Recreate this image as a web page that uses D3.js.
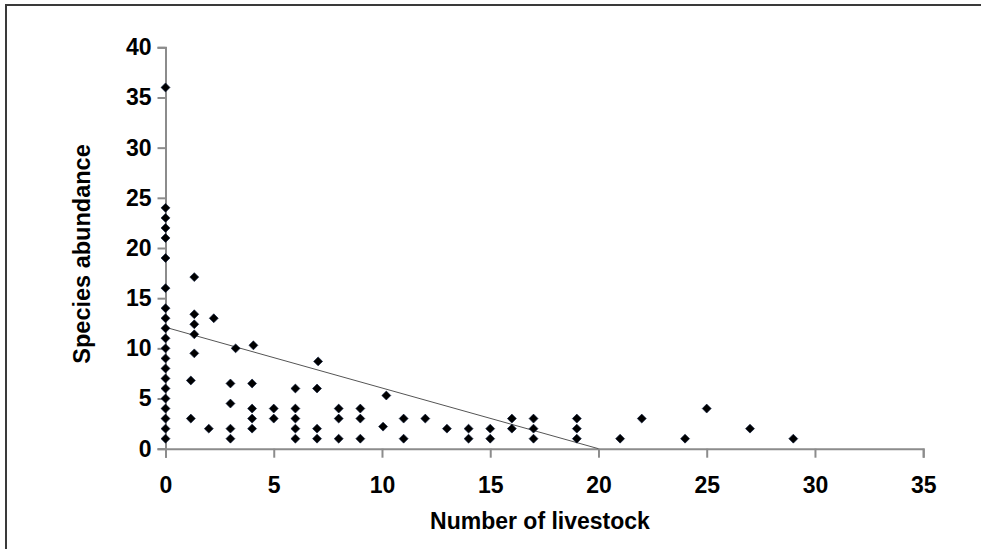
<!DOCTYPE html>
<html><head><meta charset="utf-8">
<script src="https://cdn.jsdelivr.net/npm/d3@7"></script>
<style>body{margin:0;background:#fff;}svg{display:block;}</style>
</head><body>
<svg id="c" width="981" height="549"></svg>
<script>
// Data: number of livestock (x) vs species abundance (y)
const livestock = [0,0,0,0,0,0,0,0,0,0,0,0,0,0,0,0,0,0,0,0,0,
  1.33,1.33,1.33,1.33,1.33,1.17,1.17,2.23,2,3.24,3,3,3,3,4.06,4,4,4,4,5,5,
  6,6,6,6,6,7.05,7,7,7,8,8,8,9,9,9,10.2,10.05,11,11,12,13,14,14,15,15,16,16,
  17,17,17,19,19,19,21,22,24,25,27,29];
const abundance = [36,24,23,22,21,19,16,14,13,12,11,10,9,8,7,6,5,4,3,2,1,
  17.1,13.4,12.4,11.4,9.5,6.8,3,13,2,10,6.5,4.5,2,1,10.3,6.5,4,3,2,4,3,
  6,4,3,2,1,8.7,6,2,1,4,3,1,4,3,1,5.3,2.2,3,1,3,2,2,1,2,1,3,2,
  3,2,1,3,2,1,1,3,1,4,2,1];
const trendX = [0, 20];
const trendY = [12.1, 0];
const xTicks = [0,5,10,15,20,25,30,35];
const yTicks = [0,5,10,15,20,25,30,35,40];
const xTitle = "Number of livestock";
const yTitle = "Species abundance";

const svg = d3.select("#c");
const x = d3.scaleLinear().domain([0,35]).range([165.5,923.2]);
const y = d3.scaleLinear().domain([0,40]).range([448.7,47.3]);

// outer frame
svg.append("path").attr("d","M6,549V5H981").attr("fill","none").attr("stroke","#3a3a3a").attr("stroke-width",2);

const axisColor = "#8c8c8c";
const font = "'Liberation Sans', Arial, sans-serif";

const xAxis = svg.append("g").attr("transform",`translate(0,${y(0)})`)
  .call(d3.axisBottom(x).tickValues(xTicks).tickSize(9).tickPadding(19).tickFormat(d3.format("d")));
const yAxis = svg.append("g").attr("transform",`translate(${x(0)},0)`)
  .call(d3.axisLeft(y).tickValues(yTicks).tickSize(8).tickPadding(6).tickFormat(d3.format("d")));
[xAxis,yAxis].forEach(g=>{
  g.select(".domain").attr("stroke",axisColor).attr("stroke-width",2);
  g.selectAll(".tick line").attr("stroke",axisColor).attr("stroke-width",2);
  g.selectAll(".tick text").attr("fill","#000").attr("font-family",font)
    .attr("font-weight","bold").attr("font-size",23);
});
xAxis.selectAll(".tick text").attr("dy","0.71em");

// trend line
svg.append("line").attr("x1",x(trendX[0])).attr("y1",y(trendY[0]))
  .attr("x2",x(trendX[1])).attr("y2",y(trendY[1]))
  .attr("stroke","#555").attr("stroke-width",1);

// points
const pts = livestock.map((v,i)=>({x:v,y:abundance[i]}));
const sym = d3.symbol().type(d3.symbolSquare).size(40);
svg.append("g").selectAll("path").data(pts).join("path")
  .attr("d",sym)
  .attr("transform",d=>`translate(${x(d.x)},${y(d.y)}) rotate(45)`)
  .attr("fill","#000").attr("stroke","#0a1a3a").attr("stroke-width",0.6);

// titles
svg.append("text").attr("x",540).attr("y",529).attr("text-anchor","middle")
  .attr("font-family",font).attr("font-weight","bold").attr("font-size",23).text(xTitle);
svg.append("text").attr("transform","translate(90,254) rotate(-90)").attr("text-anchor","middle")
  .attr("font-family",font).attr("font-weight","bold").attr("font-size",23.5).text(yTitle);
</script>
</body></html>
